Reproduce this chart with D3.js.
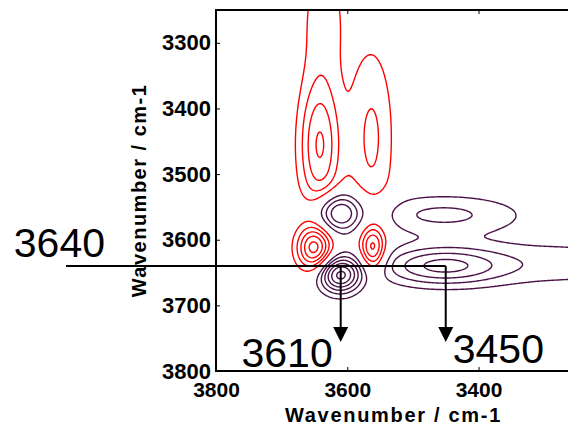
<!DOCTYPE html>
<html>
<head>
<meta charset="utf-8">
<script src="https://cdn.jsdelivr.net/npm/d3@7"></script>
<style>
  html, body { margin: 0; padding: 0; background: #fff; }
  svg { display: block; font-family: "Liberation Sans", Arial, Helvetica, sans-serif; }
</style>
</head>
<body>
<svg id="chart" width="568" height="425"></svg>
<script>
// Wavenumber ranges (cm-1); both axes run from high to low wavenumber
const xDomain = [3800, 3250];
const yDomain = [3250, 3800];
const xTicks = [3800, 3600, 3400];
const yTicks = [3300, 3400, 3500, 3600, 3700, 3800];

// Cross-peak components: [x cm-1, y cm-1, amplitude, width x, width y]
const positivePeaks = [
  [3642, 3457, 4.1, 22, 72],
  [3563, 3445, 2.2, 24, 100],
  [3636, 3260, 1.5, 25, 70],
  [3651, 3613, 5.2, 18, 23],
  [3561, 3614, 4.2, 13, 24]
];
const negativePeaks = [
  [3614, 3559, 4.3, 25, 21],
  [3611, 3654, 6.2, 22, 19],
  [3453, 3562, 2.26, 85, 21.5],
  [3457, 3640, 4.07, 67, 20.6],
  [3270, 3636, 1.5, 110, 26]
];
const contourLevels = [1, 2, 3, 4, 5, 6];

// Marked bands
const markY = 3640;
const markX = [3610, 3450];
const markLabels = ["3640", "3610", "3450"];

const svg = d3.select("#chart");
const margin = { left: 216, top: 10 };
const plotW = 361, plotH = 361;

const x = d3.scaleLinear().domain(xDomain).range([margin.left, margin.left + plotW]);
const y = d3.scaleLinear().domain(yDomain).range([margin.top, margin.top + plotH]);

// Sample the correlation surface on a regular grid that extends past the axes
const step = 2, g0 = 3150, g1 = 3900;
const n = Math.round((g1 - g0) / step) + 1;
const field = new Float64Array(n * n);
function bump(p, wx, wy) {
  const dx = (wx - p[0]) / p[3], dy = (wy - p[1]) / p[4];
  return p[2] * Math.exp(-0.5 * (dx * dx + dy * dy));
}
for (let j = 0; j < n; j++) {
  const wy = g0 + j * step;
  for (let i = 0; i < n; i++) {
    const wx = g0 + i * step;
    let v = 0;
    for (const p of positivePeaks) v += bump(p, wx, wy);
    for (const p of negativePeaks) v -= bump(p, wx, wy);
    field[j * n + i] = v;
  }
}
const negField = field.map(v => -v);

const gridToScreen = d3.geoTransform({
  point(px, py) {
    this.stream.point(x(g0 + (px - 0.5) * step), y(g0 + (py - 0.5) * step));
  }
});
const path = d3.geoPath(gridToScreen);
const contours = d3.contours().size([n, n]).thresholds(contourLevels);

svg.append("clipPath").attr("id", "plot-clip")
  .append("rect")
  .attr("x", margin.left).attr("y", margin.top)
  .attr("width", plotW).attr("height", plotH);

const plot = svg.append("g").attr("clip-path", "url(#plot-clip)");

plot.append("g")
  .selectAll("path")
  .data(contours(negField).filter(c => c.coordinates.length))
  .join("path")
  .attr("d", path)
  .attr("fill", "none")
  .attr("stroke", "#4b1248")
  .attr("stroke-width", 1.4);

plot.append("g")
  .selectAll("path")
  .data(contours(field).filter(c => c.coordinates.length))
  .join("path")
  .attr("d", path)
  .attr("fill", "none")
  .attr("stroke", "#ff0000")
  .attr("stroke-width", 1.4);

// Frame and axes
svg.append("rect")
  .attr("x", margin.left).attr("y", margin.top)
  .attr("width", plotW).attr("height", plotH)
  .attr("fill", "none").attr("stroke", "#000").attr("stroke-width", 2);

const fmt = d3.format("d");
const yAxis = svg.append("g")
  .attr("transform", `translate(${margin.left},0)`)
  .call(d3.axisLeft(y).tickValues(yTicks).tickFormat(fmt).tickSizeInner(-4).tickSizeOuter(0).tickPadding(5));
const xAxis = svg.append("g")
  .attr("transform", `translate(0,${margin.top + plotH})`)
  .call(d3.axisBottom(x).tickValues(xTicks).tickFormat(fmt).tickSizeInner(-4).tickSizeOuter(0).tickPadding(11));
svg.append("g")
  .attr("transform", `translate(0,${margin.top})`)
  .call(d3.axisTop(x).tickValues(xTicks).tickSizeInner(-4).tickSizeOuter(0).tickFormat(""));

svg.selectAll(".domain").remove();
svg.selectAll(".tick line").attr("stroke", "#000").attr("stroke-width", 1);
yAxis.selectAll("text").attr("font-size", 22).attr("font-weight", "bold").attr("fill", "#000")
  .attr("font-family", "Liberation Sans, Arial, sans-serif");
xAxis.selectAll("text").attr("font-size", 21).attr("font-weight", "bold").attr("fill", "#000")
  .attr("font-family", "Liberation Sans, Arial, sans-serif");

svg.append("text")
  .attr("x", 393.5).attr("y", 422)
  .attr("text-anchor", "middle")
  .attr("font-size", 20).attr("font-weight", "bold")
  .attr("letter-spacing", 1.7)
  .text("Wavenumber / cm-1");

svg.append("text")
  .attr("transform", "translate(146,190.5) rotate(-90)")
  .attr("text-anchor", "middle")
  .attr("font-size", 20).attr("font-weight", "bold")
  .attr("letter-spacing", 1.5)
  .text("Wavenumber / cm-1");

// Leader lines marking the 3640 band and its 3610 / 3450 partners
const leaderLeft = 66;
const arrowTip = 342, arrowLen = 15, arrowHalf = 7.5;
const yMark = y(markY);

svg.append("line")
  .attr("x1", leaderLeft).attr("x2", x(markX[1]))
  .attr("y1", yMark).attr("y2", yMark)
  .attr("stroke", "#000").attr("stroke-width", 2);

const arrows = svg.append("g").selectAll("g").data(markX).join("g");
arrows.append("line")
  .attr("x1", d => x(d)).attr("x2", d => x(d))
  .attr("y1", yMark).attr("y2", arrowTip - arrowLen + 1)
  .attr("stroke", "#000").attr("stroke-width", 2);
arrows.append("path")
  .attr("d", d => `M${x(d) - arrowHalf},${arrowTip - arrowLen}L${x(d) + arrowHalf},${arrowTip - arrowLen}L${x(d)},${arrowTip}Z`)
  .attr("fill", "#000");

const bigFont = 41;
svg.append("text")
  .attr("x", 105).attr("y", 257)
  .attr("text-anchor", "end").attr("font-size", bigFont)
  .text(markLabels[0]);
svg.append("text")
  .attr("x", x(markX[0]) - 8).attr("y", 367)
  .attr("text-anchor", "end").attr("font-size", bigFont)
  .text(markLabels[1]);
svg.append("text")
  .attr("x", x(markX[1]) + 7).attr("y", 363)
  .attr("text-anchor", "start").attr("font-size", bigFont)
  .text(markLabels[2]);
</script>
</body>
</html>
